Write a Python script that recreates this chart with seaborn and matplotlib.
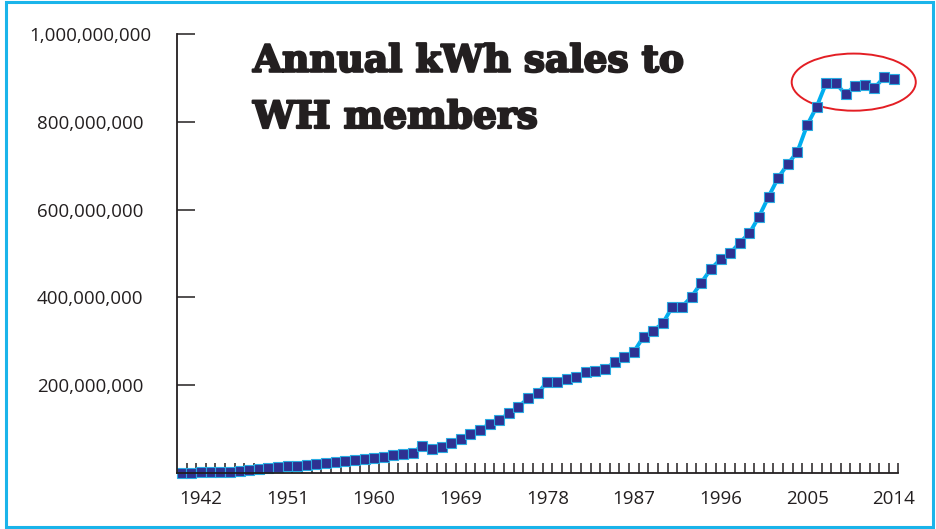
import numpy as np
import pandas as pd
import matplotlib
matplotlib.use("Agg")
import matplotlib.pyplot as plt
import matplotlib.patheffects as pe
import seaborn as sns
from matplotlib.patches import Ellipse, Rectangle

# Annual kWh sales (millions of kWh)
years = list(range(1940, 2015))
sales_m = [
    1.2, 1.2, 2.0, 2.0, 2.7, 3.5, 5.0, 6.5, 8.8, 11.1,          # 1940s
    13.4, 15.6, 17.1, 19.4, 21.7, 24.0, 25.5, 27.0, 30.0, 33.1,  # 1950s
    35.4, 37.6, 40.7, 43.7, 46.7, 62.7, 55.1, 60.4, 69.5, 78.6,  # 1960s
    90.0, 98.3, 112.7, 120.3, 137.0, 150.7, 171.0, 181.8, 208.3, 208.3,  # 1970s
    213.6, 219.7, 229.6, 233.4, 237.9, 252.3, 264.5, 276.6, 310.7, 324.4,  # 1980s
    341.1, 379.0, 379.0, 401.8, 433.6, 464.8, 486.8, 500.4, 524.7, 545.9,  # 1990s
    583.9, 629.4, 672.6, 703.7, 731.8, 791.7, 834.2, 888.8, 887.3, 862.3,  # 2000s
    882.0, 883.6, 876.7, 901.0, 898.0,                           # 2010s
]
label_years = [1942, 1951, 1960, 1969, 1978, 1987, 1996, 2005, 2014]
y_ticks = [200e6, 400e6, 600e6, 800e6, 1000e6]
y_labels = ["200,000,000", "400,000,000", "600,000,000", "800,000,000", "1,000,000,000"]

df = pd.DataFrame({"Year": years, "kWh": np.array(sales_m) * 1e6})

sns.set_style("white")
plt.rcParams["font.family"] = ["Open Sans", "DejaVu Sans"]

ink = "#231f20"
fig = plt.figure(figsize=(9.36, 5.29), dpi=100)
ax = fig.add_axes([0.1891, 0.1055, 0.7708, 0.8306])

sns.lineplot(data=df, x="Year", y="kWh", ax=ax, color="#00aeef", linewidth=2.8,
             marker="s", markersize=7.6, markerfacecolor="#2e3192",
             markeredgecolor="#29abe2", markeredgewidth=0.8, clip_on=False)

ax.set_xlim(1939.5, 2014.5)
ax.set_ylim(0, 1e9)
ax.set_xlabel("")
ax.set_ylabel("")

for side in ["top", "right"]:
    ax.spines[side].set_visible(False)
for side in ["left", "bottom"]:
    ax.spines[side].set_color(ink)
    ax.spines[side].set_linewidth(1.3)

# x axis: labels every 9 years, small inward ticks between every year
ax.set_xticks(label_years, labels=[str(y) for y in label_years])
ax.set_xticks(np.arange(1940.5, 2015, 1), minor=True)
ax.tick_params(axis="x", which="major", bottom=True, length=0, pad=12,
               labelsize=13.5, labelcolor=ink)
ax.tick_params(axis="x", which="minor", bottom=True, direction="in",
               length=7.5, width=1.1, color=ink)

ax.set_yticks(y_ticks, labels=y_labels)
ax.tick_params(axis="y", left=True, direction="in", length=13, width=1.1, color=ink,
               pad=62.5, labelsize=13.5, labelcolor=ink)
for lbl in ax.get_yticklabels():
    lbl.set_horizontalalignment("center")

# red circle around the recent plateau
ax.add_patch(Ellipse((2009.85, 890e6), 12.9, 130e6, fill=False,
                     edgecolor="#e31e24", linewidth=1.4, clip_on=False))

# title (heavy serif, thickened a little with a stroke)
title_kw = dict(family="DejaVu Serif", weight="bold", fontsize=27, color=ink, va="baseline",
                path_effects=[pe.withStroke(linewidth=1.6, foreground=ink)])
fig.text(253 / 936, 1 - 71.7 / 529, "Annual kWh sales to", **title_kw)
fig.text(253 / 936, 1 - 128 / 529, "WH members", **title_kw)

# cyan frame
fig.patches.append(Rectangle((6 / 936, 2 / 529), 927 / 936, 525 / 529, transform=fig.transFigure,
                             fill=False, edgecolor="#1ab4ea", linewidth=2.2))

fig.savefig("out.png", dpi=100)
